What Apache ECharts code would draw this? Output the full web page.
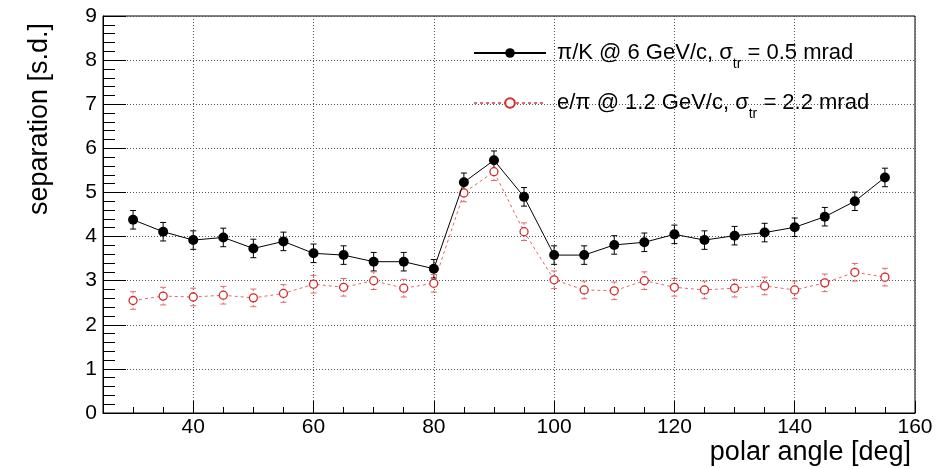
<!DOCTYPE html>
<html>
<head>
<meta charset="utf-8">
<script src="https://cdn.jsdelivr.net/npm/echarts@6/dist/echarts.min.js"></script>
<style>html,body{margin:0;padding:0;background:#fff}#c{width:937px;height:468px}</style>
</head>
<body>
<div id="c"></div>
<script>
const angles = [30,35,40,45,50,55,60,65,70,75,80,85,90,95,100,105,110,115,120,125,130,135,140,145,150,155];
const piK = [4.38,4.11,3.92,3.98,3.73,3.89,3.62,3.58,3.43,3.43,3.27,5.23,5.73,4.90,3.58,3.58,3.81,3.87,4.05,3.92,4.02,4.09,4.21,4.45,4.80,5.34];
const piKErr = [0.21,0.21,0.21,0.21,0.21,0.21,0.21,0.21,0.21,0.21,0.21,0.21,0.21,0.21,0.21,0.21,0.21,0.21,0.21,0.21,0.21,0.21,0.21,0.21,0.21,0.21];
const ePi = [2.55,2.65,2.63,2.67,2.61,2.71,2.92,2.85,3.00,2.83,2.94,4.99,5.47,4.11,3.02,2.79,2.77,3.00,2.85,2.79,2.83,2.88,2.79,2.95,3.19,3.08];
const ePiErr = [0.2,0.2,0.2,0.2,0.2,0.2,0.2,0.2,0.2,0.2,0.2,0.2,0.2,0.2,0.2,0.2,0.2,0.2,0.2,0.2,0.2,0.2,0.2,0.2,0.2,0.2];
const xMajorTicks = [40,60,80,100,120,140,160];
const xTitle = 'polar angle [deg]';
const yTitle = 'separation [s.d.]';

const FONT = 'Liberation Sans';
const RED = '#d42a2a';
const RED_LINE = '#e06a6a';

function pairs(ys){ return angles.map((x,i)=>[x, ys[i]]); }
function errData(ys, es){ return angles.map((x,i)=>[x, ys[i], es[i]]); }
function errRenderer(color, dash){
  return function(params, api){
    const x = api.value(0), y = api.value(1), e = api.value(2);
    const t = api.coord([x, y + e]);
    const b = api.coord([x, y - e]);
    const cap = 3;
    const st = {stroke: color, lineWidth: 1, lineDash: dash};
    return {type:'group', children:[
      {type:'line', shape:{x1:t[0], y1:t[1], x2:b[0], y2:b[1]}, style: st},
      {type:'line', shape:{x1:t[0]-cap, y1:t[1], x2:t[0]+cap, y2:t[1]}, style: {stroke: color, lineWidth: 1}},
      {type:'line', shape:{x1:b[0]-cap, y1:b[1], x2:b[0]+cap, y2:b[1]}, style: {stroke: color, lineWidth: 1}}
    ]};
  };
}

const legendRich = {
  t: {fontFamily: FONT, fontSize: 22, color: '#000', lineHeight: 36},
  s: {fontFamily: FONT, fontSize: 14, color: '#000', lineHeight: 14, verticalAlign: 'bottom'}
};
const legendText = {
  piK: '{t|π/K @ 6 GeV/c, σ}{s|tr}{t| = 0.5 mrad}',
  ePi: '{t|e/π @ 1.2 GeV/c, σ}{s|tr}{t| = 2.2 mrad}'
};

const chart = echarts.init(document.getElementById('c'), null, {renderer:'canvas'});
chart.setOption({
  animation: false,
  backgroundColor: '#fff',
  grid: {left: 103, right: 22, top: 16, bottom: 55, show: true, borderColor: '#000', borderWidth: 1, backgroundColor: 'transparent'},
  legend: [
    {data: ['piK'], left: 473, top: 42, padding: 0, itemWidth: 72, itemHeight: 12,
     formatter: n => legendText[n], textStyle: {rich: legendRich, padding: [0,0,0,6]}},
    {data: ['ePi'], left: 473, top: 92, padding: 0, itemWidth: 72, itemHeight: 12,
     formatter: n => legendText[n], textStyle: {rich: legendRich, padding: [0,0,0,6]}}
  ],
  xAxis: [
    {type: 'value', min: 25, max: 160, interval: 5, position: 'bottom',
     axisLine: {show: true, lineStyle: {color: '#000', width: 1}},
     axisTick: {show: true, inside: true, length: 12, customValues: xMajorTicks, lineStyle: {color: '#000'}},
     axisLabel: {show: true, customValues: xMajorTicks, fontFamily: FONT, fontSize: 21, color: '#000', margin: 4},
     splitLine: {show: true, lineStyle: {color: '#555', type: [1,2], width: 1}},
     minorTick: {show: false}},
    {type: 'value', min: 25, max: 160, interval: 5, position: 'bottom',
     axisLine: {show: false},
     axisTick: {show: true, inside: true, length: 6, lineStyle: {color: '#000'}},
     axisLabel: {show: false}, splitLine: {show: false}}
  ],
  yAxis: [
    {type: 'value', min: 0, max: 9, interval: 1,
     axisLine: {show: true, lineStyle: {color: '#000', width: 1}},
     axisTick: {show: true, inside: true, length: 23, lineStyle: {color: '#000'}},
     minorTick: {show: true, splitNumber: 5, length: 12, lineStyle: {color: '#000'}},
     axisLabel: {fontFamily: FONT, fontSize: 21, color: '#000', margin: 6},
     splitLine: {show: true, lineStyle: {color: '#555', type: [1,2], width: 1}}}
  ],
  graphic: [
    {type: 'text', x: 40, y: 23, rotation: Math.PI/2,
     style: {text: yTitle, font: '27px "Liberation Sans"', fill: '#000', align: 'right', verticalAlign: 'middle'}},
    {type: 'text', x: 911, y: 453,
     style: {text: xTitle, font: '27px "Liberation Sans"', fill: '#000', align: 'right', verticalAlign: 'middle'}}
  ],
  series: [
    {type: 'custom', name: 'piKErr', xAxisIndex: 0, data: errData(piK, piKErr), renderItem: errRenderer('#000', null), z: 3, silent: true},
    {type: 'custom', name: 'ePiErr', xAxisIndex: 0, data: errData(ePi, ePiErr), renderItem: errRenderer(RED_LINE, [2,2]), z: 3, silent: true},
    {type: 'line', name: 'ePi', xAxisIndex: 0, data: pairs(ePi), symbol: 'circle', symbolSize: 8,
     lineStyle: {color: RED_LINE, width: 1, type: [3,3]},
     itemStyle: {color: '#fff', borderColor: RED, borderWidth: 1.3}, z: 4},
    {type: 'line', name: 'piK', xAxisIndex: 0, data: pairs(piK), symbol: 'circle', symbolSize: 10,
     lineStyle: {color: '#000', width: 1},
     itemStyle: {color: '#000', borderColor: '#000', borderWidth: 0}, z: 5}
  ]
});
</script>
</body>
</html>
